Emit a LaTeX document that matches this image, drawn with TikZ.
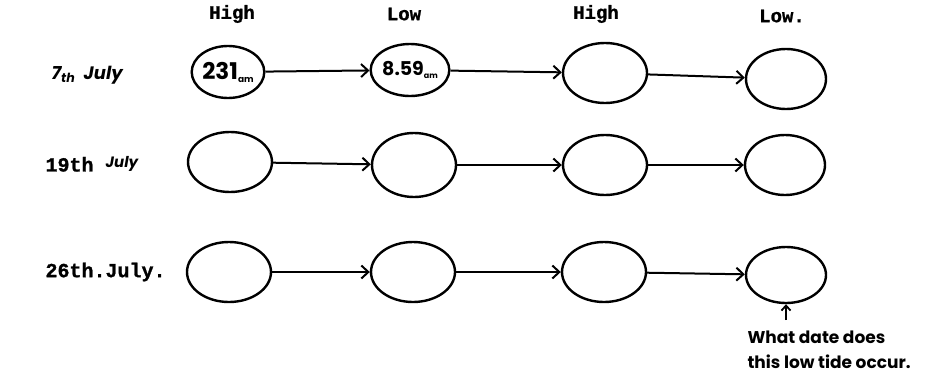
\documentclass[tikz,border=0pt]{standalone}
\usepackage{fontspec}
\newfontfamily\typebold{Liberation Mono Bold}[FakeBold=1.2]
\newfontfamily\handfont{Poppins}
\usetikzlibrary{shapes.geometric,arrows.meta}
\tikzset{
  tide/.style={ellipse,draw,line width=2.4pt,minimum width=84pt,minimum height=60pt,inner sep=0pt},
  flow/.style={line width=2pt,-{Straight Barb[length=7pt,width=13pt,line width=2pt]}},
  head/.style={font=\typebold\fontsize{19}{19}\selectfont},
  rowlab/.style={font=\typebold\fontsize{20}{20}\selectfont,anchor=west},
  hand/.style={font=\handfont\bfseries\fontsize{17}{25}\selectfont}
}
\begin{document}
\begin{tikzpicture}[x=1pt,y=-1pt]
\useasboundingbox (0,0) rectangle (931,391);
% column headings
\node[head] (h1) at (232,14) {High};
\node[head] (h2) at (404,14) {Low};
\node[head] (h3) at (596,14) {High};
\node[head] (h4) at (782,16) {Low.};
% row labels
\node[anchor=west,font=\handfont\bfseries\itshape\fontsize{18}{18}\selectfont] (l1) at (48,75) {7\textsubscript{th}\ \ July};
\node[rowlab] (l2) at (42,164) {19th \raisebox{4pt}{\handfont\bfseries\itshape\fontsize{15}{15}\selectfont July}};
\node[rowlab] (l3) at (42,272) {26th.July.};
% first row
\node[tide,minimum width=68pt,minimum height=52pt] (a1) at (228,72) {\handfont\bfseries\fontsize{23}{23}\selectfont 231\raisebox{-3pt}{\fontsize{9}{9}\selectfont am}};
\node[tide,minimum width=64pt,minimum height=52pt] (a2) at (410,70) {\handfont\bfseries\fontsize{19}{19}\selectfont 8.59\raisebox{-3pt}{\fontsize{8}{8}\selectfont am}};
\node[tide] (a3) at (605,73) {};
\node[tide,minimum width=80pt] (a4) at (786,79) {};
% second row
\node[tide] (b1) at (230,162) {};
\node[tide,minimum height=64pt] (b2) at (414,165) {};
\node[tide] (b3) at (605,165) {};
\node[tide,minimum width=80pt] (b4) at (785,165) {};
% third row
\node[tide] (c1) at (229,272) {};
\node[tide] (c2) at (413,272) {};
\node[tide] (c3) at (604,272) {};
\node[tide,minimum width=80pt,minimum height=56pt] (c4) at (786,275) {};
% connectors
\foreach \r in {a,b,c}{
  \draw[flow] (\r1) -- (\r2);
  \draw[flow] (\r2) -- (\r3);
  \draw[flow] (\r3) -- (\r4);
}
% question about the last low tide
\node[hand,align=left,anchor=north west] (q) at (744,327) {What date does\\this low tide occur.};
\coordinate (qa) at (786,320);
\draw[line width=1.8pt,-{Straight Barb[length=5pt,width=9pt,line width=1.8pt]}] (qa) -- (c4.south);
\end{tikzpicture}
\end{document}
